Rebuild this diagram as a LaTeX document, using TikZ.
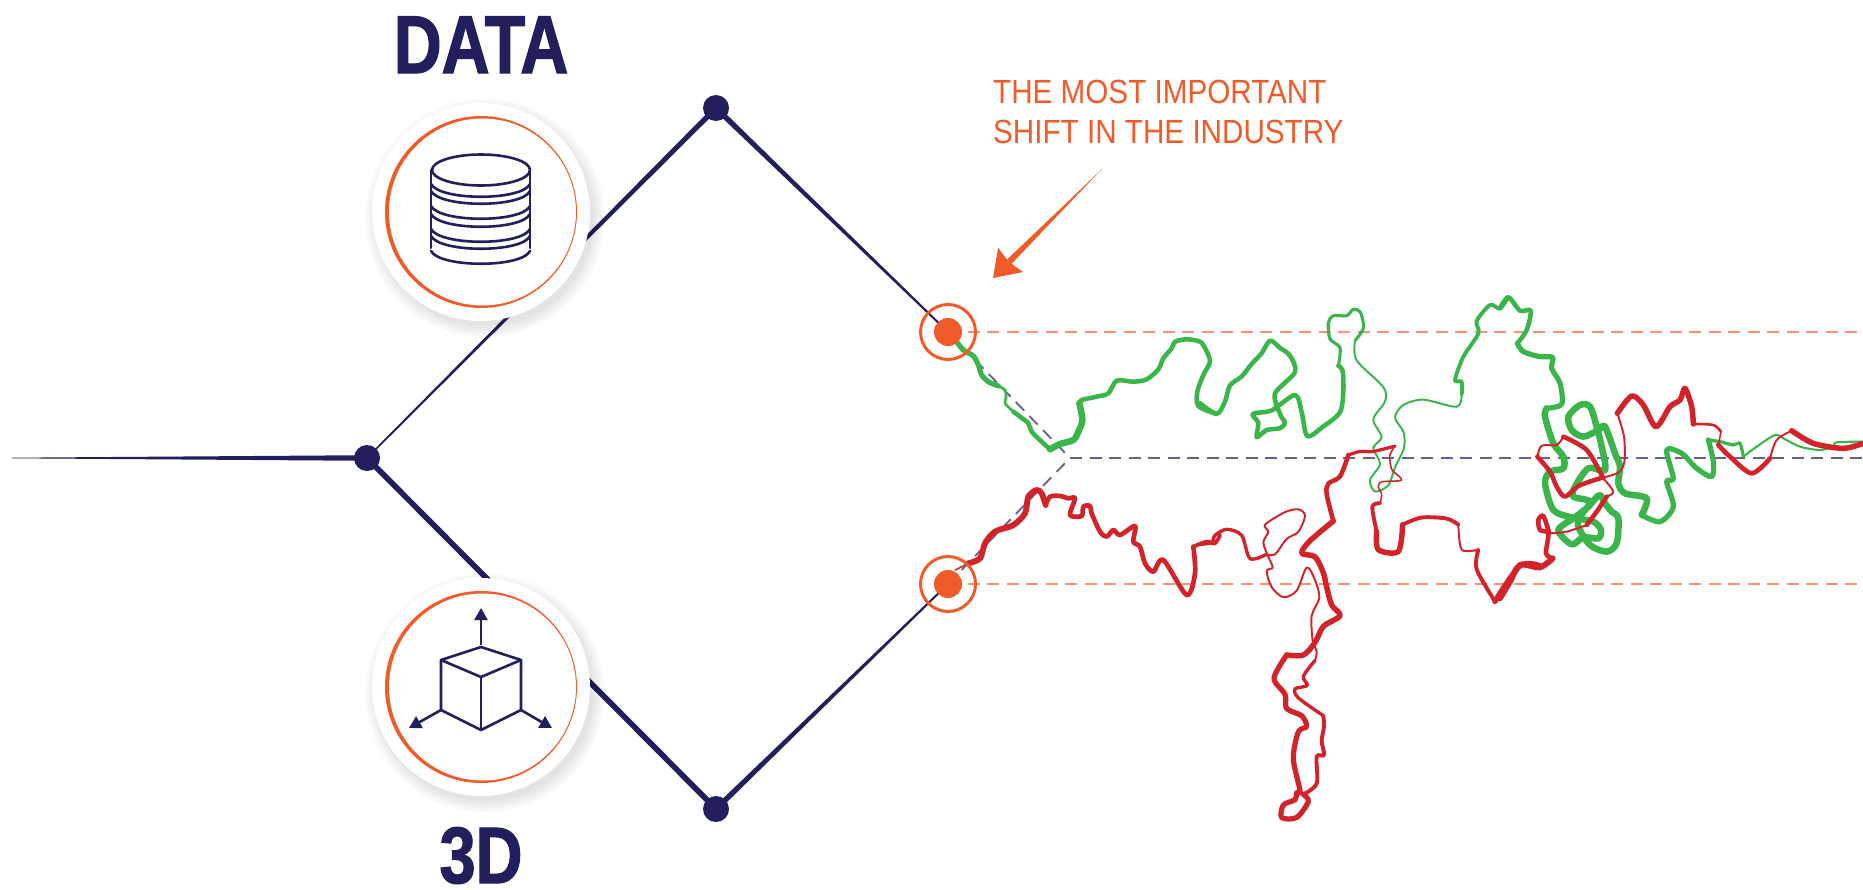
\documentclass[tikz,border=0pt]{standalone}
\usepackage{fontspec}
\usetikzlibrary{calc,arrows.meta}
\setmainfont{Liberation Sans}
\newfontfamily\headfont[FakeStretch=0.81,FakeBold=1.5]{Liberation Sans Bold}
\newfontfamily\notefont[FakeStretch=0.885]{Liberation Sans}
\definecolor{navy}{HTML}{231F5C}
\definecolor{accent}{HTML}{F15A29}
\definecolor{lineg}{HTML}{39B54A}
\definecolor{liner}{HTML}{D2232A}
\tikzset{
  dotn/.style={circle,fill=navy,draw=none,inner sep=0pt,minimum size=26pt},
  doto/.style={circle,fill=accent,draw=none,inner sep=0pt,minimum size=28pt},
  ringo/.style={circle,draw=accent,line width=3pt,fill=none,inner sep=0pt,minimum size=55pt},
  dashn/.style={draw=navy,line width=1.8pt,dash pattern=on 12pt off 7.5pt,opacity=.7},
  dasho/.style={draw=accent,line width=1.8pt,dash pattern=on 12pt off 7.5pt,opacity=.65},
  icon/.style={draw=navy,line width=2.6pt,line cap=round,line join=round},
  tip3d/.style={-{Triangle[length=12pt,width=13pt]}},
  disc/.style={circle,fill=white,draw=none,inner sep=0pt,minimum size=218pt},
  ringd/.style={circle,fill=accent,draw=none,inner sep=0pt,minimum size=192pt},
  zt/.style={shift={(900,280)},x=.33333pt,y=-.33333pt},
  zf/.style={shift={(1200,280)},x=.33333pt,y=-.35714pt},
  zv/.style={shift={(1500,280)},x=.33333pt,y=-.33333pt},
}
\newcommand\taper[4]{\fill[navy] ($(#1)!#3pt!90:(#2)$) -- ($(#2)!#4pt!-90:(#1)$) -- ($(#2)!#4pt!90:(#1)$) -- ($(#1)!#3pt!-90:(#2)$) -- cycle;}
\newcommand\seg[3]{\draw[#1,line width=#2*1.3pt,line cap=round,line join=round] plot[smooth,tension=.5] coordinates {#3};}
\newcommand\halo[1]{\foreach \r in {108,110,...,120}{\fill[black,opacity=.016] ($(#1)+(4,6)$) circle (\r pt);}}
\begin{document}
\begin{tikzpicture}[x=1pt,y=-1pt]
\useasboundingbox (0,0) rectangle (1863,889);
\fill[white] (0,0) rectangle (1863,889);
% anchors
\coordinate (st) at (12,458);
\coordinate (jc) at (367,458);
\coordinate (tc) at (716,108);
\coordinate (bc) at (716,809);
\coordinate (oa) at (948,332);
\coordinate (ob) at (948,584);
\coordinate (mid) at (1070,458);
\coordinate (ea) at (1863,332);
\coordinate (eb) at (1863,584);
\coordinate (em) at (1863,458);
\coordinate (ic) at (481,212);
\coordinate (id) at (481,687);
% dashed guides
\draw[dasho] (oa) -- (ea);
\draw[dasho] (ob) -- (eb);
\draw[dashn] (oa) -- (mid);
\draw[dashn] (ob) -- (mid);
\draw[dashn] (mid) -- (em);
% tapered lines
\taper{st}{jc}{.3}{2.8}
\taper{jc}{tc}{.8}{2.7}
\taper{tc}{oa}{2.8}{.9}
\taper{jc}{bc}{2.8}{2.8}
\taper{bc}{ob}{2.8}{.9}
% green
\begin{scope}[zt]
\seg{lineg}{4}{(170,185) (190,210) (220,228) (235,255) (245,285) (265,305) (295,318)}
\seg{lineg}{2}{(295,318) (315,330) (318,355) (315,370) (340,395)}
\seg{lineg}{3.5}{(340,395) (360,410) (385,430) (395,455) (425,485) (450,508)}
\seg{lineg}{5}{(450,508) (480,492) (520,480) (535,455) (547,420) (538,370)}
\seg{lineg}{3.5}{(538,370) (545,360) (590,350) (625,340) (650,302) (700,305) (740,298) (775,268) (790,235) (815,205) (825,185) (860,178) (900,185) (918,210) (930,245) (910,285) (892,335) (895,378) (945,400)}
\end{scope}
\begin{scope}[zf]
\seg{lineg}{3.5}{(0,345) (50,375) (75,340) (90,295) (125,270) (155,235) (185,205) (210,170) (240,190) (270,212) (285,258) (225,318) (240,375) (255,400) (240,415) (200,420) (170,440) (175,400) (158,375) (215,365) (285,322) (305,370) (322,437) (370,410) (420,370) (430,310) (428,255) (415,240)}
\seg{lineg}{2.4}{(415,240) (420,190) (390,165) (385,120) (400,100) (440,100) (460,82) (482,92) (490,135) (465,170)}
\seg{lineg}{1.5}{(465,170) (470,225) (550,300) (555,340) (520,390) (545,440) (520,470) (540,515) (510,560) (525,592) (565,575) (585,525) (612,470) (610,425) (585,385) (610,350) (670,335) (770,355) (785,320)}
\seg{lineg}{3}{(785,320) (785,285) (765,280) (790,215) (835,150) (830,115) (870,70) (900,80) (925,48)}
\end{scope}
\begin{scope}[zv]
\seg{lineg}{3.5}{(0,85) (25,52) (60,92) (92,92) (80,150) (52,190)}
\seg{lineg}{4}{(52,190) (70,215) (120,230) (158,232) (155,265) (180,310) (185,372) (140,385)}
\seg{lineg}{5}{(140,385) (135,410) (160,490) (190,530) (190,565) (150,575) (135,610) (160,690) (215,712) (280,725) (303,750) (295,775) (250,772) (215,793) (175,750) (225,712) (265,680) (298,645) (315,670) (335,695) (355,715) (350,790) (320,815) (270,795) (235,740) (240,710) (270,665) (220,650) (225,620) (265,565) (315,570) (305,500) (290,440) (270,380) (240,375) (205,410) (215,450) (250,470) (295,450) (315,440) (345,520) (360,560) (355,610) (375,640) (440,655) (425,705)}
\seg{lineg}{4}{(425,705) (480,725) (520,680) (500,605) (520,595) (500,510) (545,520) (590,565) (635,590) (640,545) (625,480)}
\seg{lineg}{2.5}{(625,480) (660,485) (700,495) (720,490) (730,530)}
\seg{lineg}{1.6}{(730,530) (770,500) (825,465) (850,475) (900,500) (960,510) (1000,500) (1010,487) (1089,485)}
\end{scope}
% red
\begin{scope}[zt]
\seg{liner}{1.2}{(165,870) (205,850)}
\seg{liner}{4.5}{(205,850) (240,835) (255,790) (285,755) (340,735) (375,700) (385,650) (410,630) (425,640) (437,675)}
\seg{liner}{3.6}{(437,675) (450,650) (480,648) (505,655) (525,655) (510,705) (545,708) (550,680) (570,678) (575,700) (600,755) (620,770) (640,750) (660,765) (705,738) (700,785) (720,800) (735,850) (760,875) (790,840) (860,945) (885,880) (880,800)}
\seg{liner}{3}{(880,800) (920,785) (945,790) (960,765)}
\end{scope}
\begin{scope}[zf]
\seg{liner}{2.6}{(0,740) (35,735) (45,715) (80,698) (125,715) (150,780) (200,768)}
\seg{liner}{1.5}{(200,768) (225,768) (260,725) (295,705) (315,660) (295,642) (255,650) (195,685) (205,705) (190,735) (205,775) (218,805) (200,815) (215,860) (250,888) (290,870) (320,805) (345,840) (358,890) (335,940) (338,1010) (350,1040) (345,1065)}
\seg{liner}{2.6}{(345,1065) (310,1110) (322,1135) (285,1145) (295,1170) (370,1220)}
\seg{liner}{3}{(370,1220) (372,1250) (365,1290) (372,1330) (350,1335) (350,1410) (310,1440)}
\seg{liner}{4}{(310,1440) (325,1460) (290,1505) (245,1505) (250,1470) (285,1455) (290,1435) (300,1430) (280,1340) (295,1265) (320,1250) (305,1220) (260,1200) (255,1160) (222,1115) (260,1050)}
\seg{liner}{4.2}{(260,1050) (310,1050) (345,1015) (370,970) (420,940) (395,910) (380,860) (370,820) (345,775) (305,765) (330,730) (400,675)}
\seg{liner}{3.5}{(400,675) (380,600) (385,570) (420,550) (445,490)}
\seg{liner}{2.5}{(445,490) (480,480) (520,480) (585,465)}
\seg{liner}{1.2}{(585,465) (570,490) (575,530) (605,560) (545,565) (535,580) (545,600) (540,625)}
\seg{liner}{3}{(540,625) (517,635) (530,705)}
\seg{liner}{4.2}{(530,705) (535,755) (595,760) (608,685)}
\seg{liner}{3}{(608,685) (665,665) (740,668) (775,685)}
\seg{liner}{1.5}{(775,685) (785,755) (835,755)}
\seg{liner}{3}{(835,755) (830,810) (885,900)}
\seg{liner}{4.2}{(885,900) (960,800) (1020,800)}
\end{scope}
\begin{scope}[zv]
\seg{liner}{4.5}{(0,955) (30,905) (60,855) (120,862) (158,835)}
\seg{liner}{3.5}{(158,835) (138,820) (145,760) (120,750) (115,720) (130,708) (148,760)}
\seg{liner}{1.5}{(148,760) (200,755) (260,735)}
\seg{liner}{3.5}{(260,735) (290,695) (320,650)}
\seg{liner}{1.5}{(320,650) (340,635) (310,595)}
\seg{liner}{3.5}{(310,595) (260,510) (190,470)}
\seg{liner}{1.5}{(190,470) (170,495) (125,497) (112,530)}
\seg{liner}{3.5}{(112,530) (150,575) (170,620) (195,650) (235,618) (300,595)}
\seg{liner}{1.5}{(300,595) (355,578) (373,545) (372,470) (352,400)}
\seg{liner}{4.2}{(352,400) (395,348) (430,375) (468,440) (510,380) (540,360) (555,325) (575,380) (580,432)}
\seg{liner}{2}{(580,432) (640,435) (663,455)}
\seg{liner}{1.2}{(663,455) (655,495)}
\seg{liner}{3.6}{(655,495) (690,530) (755,580) (810,535)}
\seg{liner}{1.5}{(810,535) (830,480) (875,452)}
\seg{liner}{4.2}{(875,452) (940,490) (1030,505) (1089,490)}
\end{scope}
% dots and rings
\node[dotn] (jn) at (jc) {};
\node[dotn] (tn) at (tc) {};
\node[dotn] (bn) at (bc) {};
\node[ringo] (ra) at (oa) {};
\node[ringo] (rb) at (ob) {};
\node[doto] (na) at (oa) {};
\node[doto] (nb) at (ob) {};
% discs with uneven orange rims
\halo{ic}
\halo{id}
\node[disc] (dc) at (ic) {};
\node[disc] (dd) at (id) {};
\node[ringd] (rc) at (ic) {};
\node[ringd] (rd) at (id) {};
\fill[white] ($(ic)+(1.5,0)$) circle (93.5);
\fill[white] ($(id)+(1.5,0)$) circle (93.5);
% database icon
\foreach \y in {267,252,245,230,222,207,200}{
  \draw[icon] (431,\y-16) .. controls (440,\y+1) and (522,\y+1) .. (530,\y-16);
}
\draw[icon] (431,170) -- (431,248);
\draw[icon] (530,170) -- (530,248);
\draw[icon] (481,170) ellipse (49 and 15.5);
% cube icon
\draw[icon] (481,647) -- (441,660) -- (441,710) -- (481,730) -- (521,710) -- (521,660) -- cycle;
\draw[icon] (441,660) -- (481,677) -- (521,660);
\draw[icon] (481,677) -- (481,730);
\draw[icon,line cap=butt,tip3d,fill=navy] (481,645) -- (481,608);
\draw[icon,line cap=butt,tip3d,fill=navy] (441,710) -- (409,728);
\draw[icon,line cap=butt,tip3d,fill=navy] (521,710) -- (552,728);
% labels
\node[font=\headfont\fontsize{82}{82}\selectfont,text=navy,inner sep=0pt,anchor=base] (ldata) at (481,73) {DATA};
\node[font=\headfont\fontsize{80}{80}\selectfont,text=navy,inner sep=0pt,anchor=base] (l3d) at (481,883) {3D};
\node[font=\notefont\fontsize{33.5}{40}\selectfont,text=accent,inner sep=0pt,anchor=base west] (notea) at (993,103) {THE MOST IMPORTANT};
\node[font=\notefont\fontsize{33.5}{40}\selectfont,text=accent,inner sep=0pt,anchor=base west] (noteb) at (993,143) {SHIFT IN THE INDUSTRY};
% big arrow
\coordinate (aa) at (1102,169);
\coordinate (ac) at (1009,262);
\fill[accent] (aa) -- ($(ac)+(2.2,2.2)$) -- ($(ac)+(-2.2,-2.2)$) -- cycle;
\fill[accent] (993,278) -- (998,248) -- (ac) -- (1023,272) -- cycle;
\end{tikzpicture}
\end{document}
